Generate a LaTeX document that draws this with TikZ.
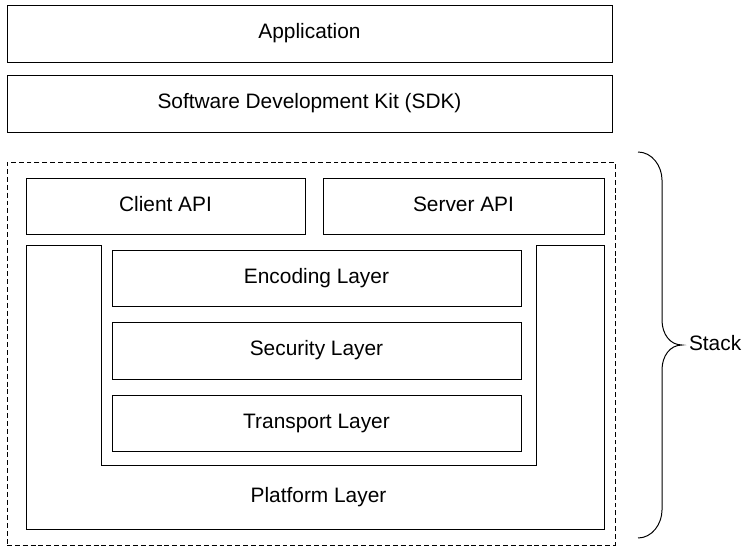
\documentclass[tikz,border=0pt]{standalone}
\usepackage{fontspec}
\setmainfont{Liberation Sans}
\usetikzlibrary{positioning,calc}

\begin{document}
\begin{tikzpicture}[
    font=\fontsize{14.85}{17}\selectfont,
    line width=0.7pt,
    lbl/.style={text height=0.72em, text depth=0pt, inner sep=0pt, outer sep=0pt},
    box/.style={draw, rectangle, lbl, minimum height=14.25mm},
    layer/.style={box, minimum height=14.125mm, minimum width=102.25mm},
    frame/.style={draw, dash pattern=on 3.5pt off 2.1pt, minimum width=152mm, minimum height=95.75mm, inner sep=0pt, outer sep=0pt}
  ]
  \useasboundingbox (0,0) rectangle (186.75mm,-136.5mm);
  % top boxes
  \node[box, minimum width=151.25mm, anchor=north west] (app) at (1.75mm,-1.25mm) {Application};
  \node[box, minimum width=151.25mm, below=3.25mm of app] (sdk) {Software Development Kit (SDK)};
  % stack frame
  \node[frame, below right=7.5mm and 0mm of sdk.south west] (stack) {};
  \node[box, minimum width=69.75mm, minimum height=14mm, below right=4mm and 4.75mm of stack.north west] (client) {Client API};
  \node[box, minimum width=70.25mm, minimum height=14mm, right=4.5mm of client] (server) {Server API};
  % inner layers
  \node[layer, below right=4mm and 21.5mm of client.south west] (enc) {Encoding Layer};
  \node[layer, below=4mm of enc] (sec) {Security Layer};
  \node[layer, below=4mm of sec] (trans) {Transport Layer};
  % platform layer, U shape round the inner layers
  \coordinate (pl-nw) at ($(client.south west)+(0,-2.75mm)$);
  \coordinate (pl-se) at ($(server.south east)+(0,-73.75mm)$);
  \coordinate (notch-l) at ($(trans.south west)+(-2.75mm,-3.375mm)$);
  \coordinate (notch-r) at ($(trans.south east)+(3.75mm,-3.375mm)$);
  \draw (pl-nw) -- (pl-nw -| notch-l) -- (notch-l) -- (notch-r) -- (notch-r |- pl-nw)
    -- (pl-se |- pl-nw) -- (pl-se) -- (pl-se -| pl-nw) -- cycle;
  \node[lbl] (platform) at ($(notch-l)!0.5!(pl-se -| notch-r)$) {Platform Layer};
  % brace
  \coordinate (br-top) at ($(stack.north east)+(5.75mm,2.5mm)$);
  \draw (br-top) .. controls +(3.5mm,0) and +(0,3.5mm) .. ++(6mm,-7mm)
    -- ++(0,-35mm)
    .. controls +(0,-3.5mm) and +(-3mm,0) .. ++(5mm,-6.25mm) coordinate (br-tip)
    .. controls +(-3mm,0) and +(0,3.5mm) .. ++(-5mm,-6.25mm)
    -- ++(0,-35mm)
    .. controls +(0,-3.5mm) and +(3.5mm,0) .. ++(-6mm,-7mm);
  \node[lbl, right=1.75mm of br-tip] (stacklbl) {Stack};
\end{tikzpicture}
\end{document}
